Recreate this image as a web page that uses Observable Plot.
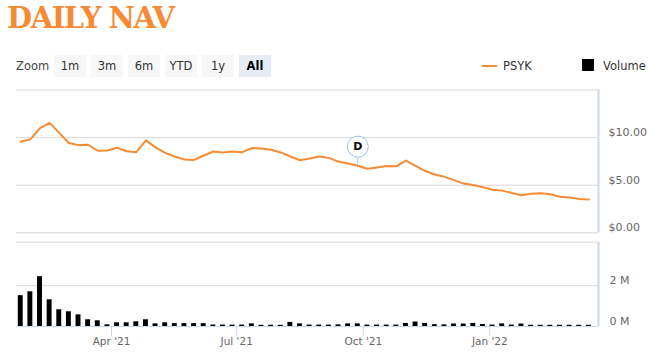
<!DOCTYPE html>
<html><head><meta charset="utf-8">
<script src="https://cdn.jsdelivr.net/npm/d3@7"></script>
<script src="https://cdn.jsdelivr.net/npm/@observablehq/plot@0.6"></script>
<style>
body{margin:0;background:#fff;font-family:"DejaVu Sans",sans-serif;}
#wrap{position:relative;width:653px;height:357px;overflow:hidden;}
#title{position:absolute;left:7px;top:0;font-family:"DejaVu Serif";font-weight:900;font-size:29px;color:#f68b33;letter-spacing:-1.5px;line-height:36px;white-space:nowrap}
.lbl{position:absolute;font-size:11.5px;color:#333;line-height:22px;white-space:nowrap}
.btn{position:absolute;top:55px;width:32px;height:22px;background:#f7f7f7;color:#333;font-size:11.5px;line-height:22px;text-align:center}
.btn.sel{background:#e6ebf5;color:#000;font-weight:bold}
.chart{position:absolute;left:0}
</style></head>
<body><div id="wrap">
<div id="title">DAILY NAV</div>
<div class="lbl" style="left:16px;top:55px;color:#444">Zoom</div>
<div id="btns"></div>
<div id="legend"></div>
<div id="topchart" class="chart" style="top:80px"></div>
<div id="botchart" class="chart" style="top:236px"></div>
</div>
<script>
// ---- data ----
const firstWeek = "2021-01-25";
const navValues = [9.57,9.82,11.0,11.55,10.5,9.43,9.21,9.25,8.62,8.65,
  8.94,8.57,8.47,9.71,8.97,8.4,8.01,7.69,7.66,8.12,
  8.54,8.44,8.54,8.47,8.9,8.86,8.72,8.44,8.01,7.62,
  7.8,8.01,7.87,7.48,7.27,7.05,6.73,6.87,7.02,6.98,
  7.59,7.02,6.49,6.13,5.88,5.53,5.17,5.03,4.79,4.53,
  4.43,4.18,3.94,4.11,4.15,4.04,3.79,3.72,3.54,3.51];
const volumeM = [1.51,1.70,2.44,1.31,0.82,0.72,0.57,0.33,0.28,0.08,
  0.18,0.18,0.23,0.33,0.13,0.18,0.14,0.14,0.14,0.14,
  0.07,0.07,0.07,0.07,0.13,0.06,0.06,0.06,0.2,0.13,
  0.07,0.07,0.07,0.08,0.13,0.13,0.07,0.07,0.07,0.07,
  0.15,0.22,0.15,0.09,0.08,0.12,0.12,0.15,0.1,0.07,
  0.13,0.07,0.12,0.06,0.06,0.06,0.06,0.06,0.06,0.06];
const buttons = ["1m","3m","6m","YTD","1y","All"];
const selectedButton = "All";
const seriesName = "PSYK";
const volumeName = "Volume";
const flagLabel = "D";
const flagDate = "2021-09-27";
const xTickDates = ["2021-04-01","2021-07-01","2021-10-01","2022-01-01"];
const navTicks = [0,5,10];
const volTicks = [0,2];
const xDomain = [new Date(Date.UTC(2021,0,21,22)), new Date(Date.UTC(2022,2,21))];

// ---- build ----
const start = new Date(firstWeek + "T00:00:00Z");
const rows = navValues.map((v,i)=>({date:d3.utcDay.offset(start,7*i), nav:v, vol:volumeM[i]}));
const flagRow = rows.find(r=>+r.date===+new Date(flagDate+"T00:00:00Z"));
const ORANGE = "#f68b33", GRID = "#d8d8d8", AXIS = "#ccd6eb", LABEL = "#666";

// buttons
const bt = document.getElementById("btns");
buttons.forEach((b,i)=>{
  const d=document.createElement("div");
  d.className="btn"+(b===selectedButton?" sel":"");
  d.style.left=(54+37*i)+"px"; d.textContent=b; bt.appendChild(d);
});
// legend
document.getElementById("legend").innerHTML =
  `<div style="position:absolute;left:482px;top:64.7px;width:15px;height:2px;background:${ORANGE}"></div>
   <div class="lbl" style="left:503px;top:55px">${seriesName}</div>
   <div style="position:absolute;left:582px;top:59px;width:12px;height:12px;background:#000"></div>
   <div class="lbl" style="left:603px;top:55px">${volumeName}</div>`;

const common = {width:653, marginLeft:16, marginRight:55,
  style:{fontFamily:"DejaVu Sans", fontSize:"11px", background:"transparent", overflow:"visible"}};

const navChart = Plot.plot({
  ...common, height:160, marginTop:9.5, marginBottom:7.7,
  x:{type:"utc", domain:xDomain, axis:null, label:null},
  y:{domain:[0,15], axis:null, label:null},
  marks:[
    Plot.ruleY([0,5,10,15],{stroke:GRID}),
    Plot.ruleX([xDomain[1]],{stroke:AXIS, strokeWidth:2}),
    Plot.axisY({anchor:"right", ticks:navTicks, tickSize:0, tickPadding:10, dy:-5, label:null,
      tickFormat:d=>"$"+d.toFixed(2), fill:LABEL, fontSize:11}),
    Plot.line(rows,{x:"date", y:"nav", stroke:ORANGE, strokeWidth:2, curve:"linear"}),
    Plot.ruleX([flagRow],{x:"date", y1:"nav", y2:"nav", insetTop:-8, stroke:"#9fc4ec"}),
    Plot.dot([flagRow],{x:"date", y:"nav", dy:-19, r:10.5, fill:"#fff", stroke:"#9fc4ec", strokeWidth:1}),
    Plot.text([flagRow],{x:"date", y:"nav", dy:-19, text:()=>flagLabel, fontWeight:"bold", fontSize:11, fill:"#000"})
  ]
});
document.getElementById("topchart").appendChild(navChart);

const volChart = Plot.plot({
  ...common, height:121, marginTop:5.7, marginBottom:31,
  x:{type:"utc", domain:xDomain, axis:null, label:null},
  y:{domain:[0,4.13], axis:null, label:null},
  marks:[
    Plot.ruleY([2, 4.13],{stroke:GRID}),
    Plot.ruleX([xDomain[1]],{stroke:AXIS, strokeWidth:2}),
    Plot.rectY(rows,{x1:d=>d3.utcHour.offset(d.date,-43), x2:d=>d3.utcHour.offset(d.date,43), y:"vol", fill:"#000"}),
    Plot.ruleY([0],{stroke:AXIS}),
    Plot.axisY({anchor:"right", ticks:volTicks, tickSize:0, tickPadding:11, dy:-5, label:null,
      tickFormat:d=>d+" M", fill:LABEL, fontSize:11}),
    Plot.axisX({ticks:xTickDates.map(s=>new Date(s+"T00:00:00Z")), tickFormat:d3.utcFormat("%b '%y"), label:null,
      tickSize:10, tickPadding:1.5, stroke:AXIS, fill:LABEL, fontSize:10.5})
  ]
});
document.getElementById("botchart").appendChild(volChart);
</script>
</body></html>
